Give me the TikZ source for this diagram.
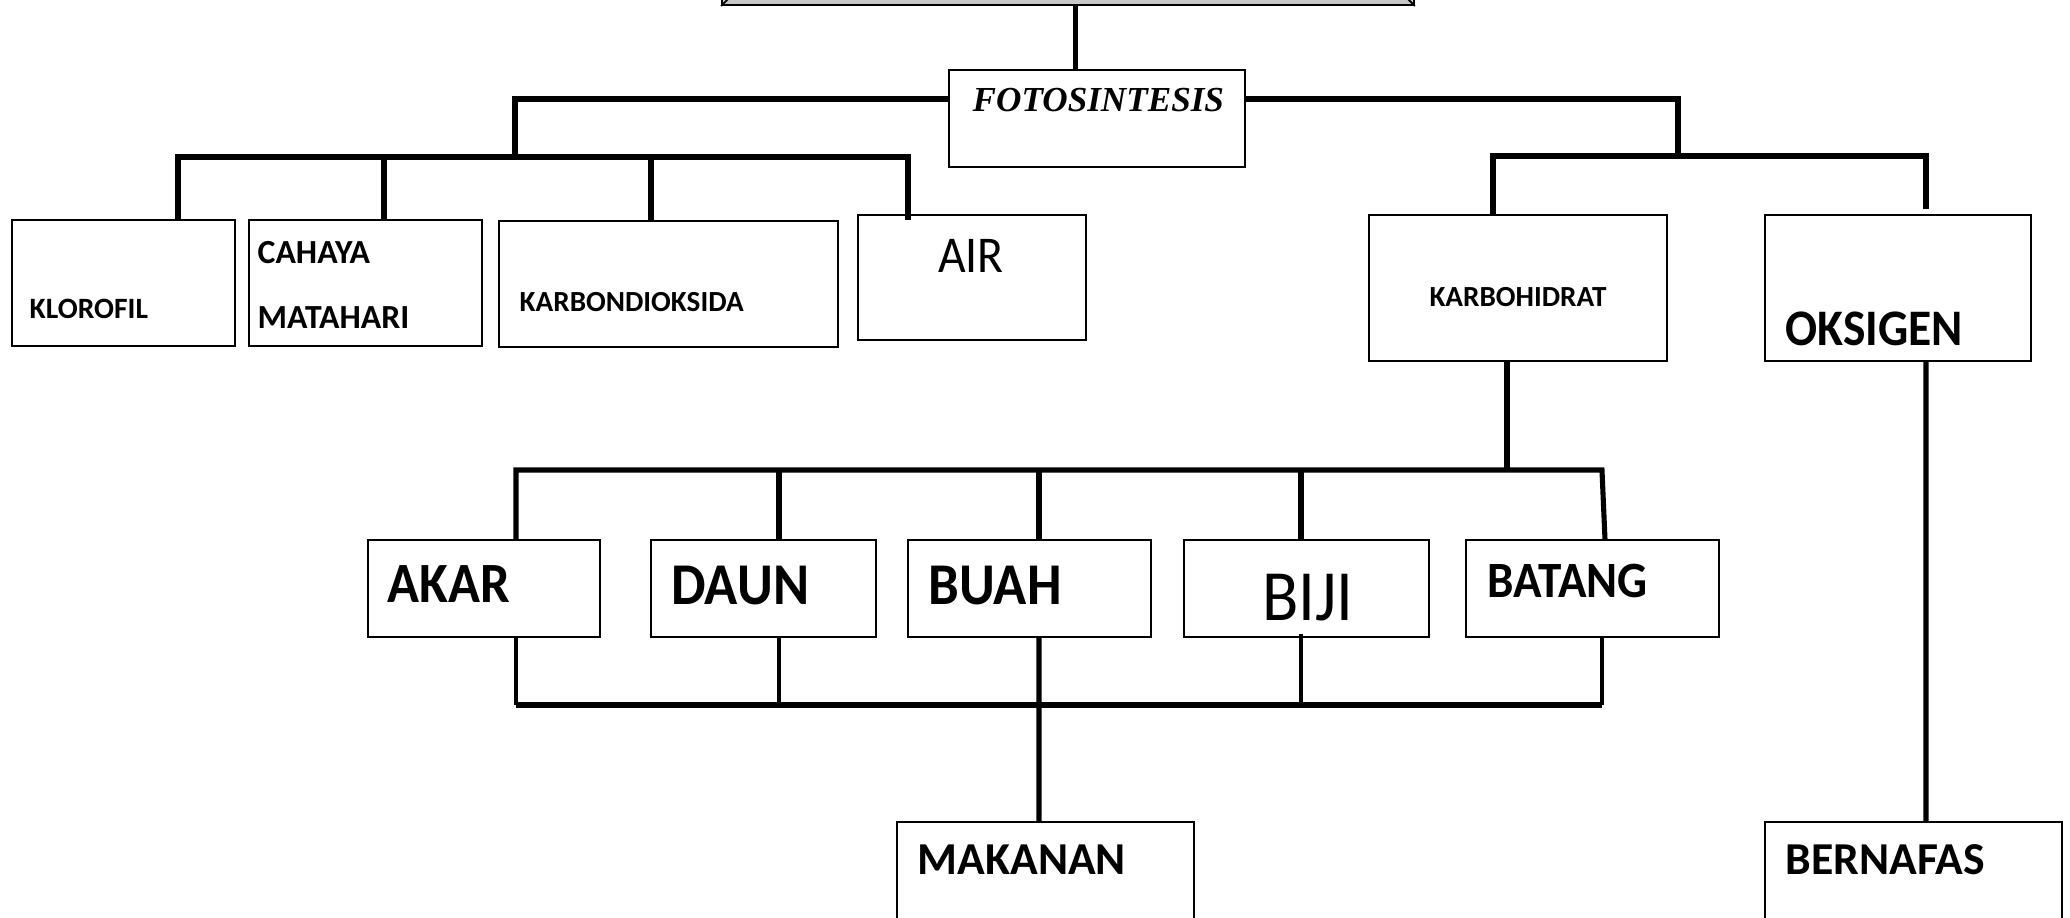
\documentclass[tikz,border=0pt]{standalone}
\usepackage{fontspec}
\setmainfont{Carlito}
\newfontfamily\fotofont{Liberation Serif}
\begin{document}
\begin{tikzpicture}[
  box/.style={draw=black, line width=0.55pt, fill=white, rectangle, inner sep=0pt, anchor=north west},
  txt/.style={inner sep=0pt, anchor=base west},
  ctxt/.style={inner sep=0pt, anchor=base},
  tall/.style={yscale=1.08, transform shape},
  conn/.style={line width=1.45pt, line join=miter},
  thin conn/.style={line width=1.1pt},
  bus/.style={line width=1.8pt, line join=miter},
  fs/.style={font=\bfseries\fontsize{#1}{#1}\selectfont},
  fr/.style={font=\fontsize{#1}{#1}\selectfont}
]
\useasboundingbox (0,0) rectangle (20.70,-9.17);
\begin{scope}
\clip (0,0) rectangle (20.70,-9.17);
% title box (cut by the top edge)
\node[fill=black!22, draw=black, line width=0.5pt, minimum width=6.92cm, minimum height=1cm, anchor=south west, inner sep=0pt] (title) at (7.21,-0.06) {};
\draw[line width=0.5pt] (title.south west) -- ++(0.09,0.09);
\draw[line width=0.5pt] (title.south east) -- ++(-0.09,0.09);

% boxes
\node[box, minimum width=2.96cm, minimum height=0.97cm] (foto) at (9.48,-0.69) {};
\node[txt, font=\fotofont\bfseries\itshape\fontsize{10}{11}\selectfont] (foto-t) at ([shift={(0.24,-0.42)}]foto.north west) {FOTOSINTESIS};

\node[box, minimum width=2.23cm, minimum height=1.26cm] (klorofil) at (0.11,-2.19) {};
\node[txt, fs=8.4] (klorofil-t) at ([shift={(0.18,-0.99)}]klorofil.north west) {KLOROFIL};

\node[box, minimum width=2.33cm, minimum height=1.26cm] (cahaya) at (2.48,-2.19) {};
\node[txt, fs=9.6] (cahaya-t1) at ([shift={(0.09,-0.44)}]cahaya.north west) {CAHAYA};
\node[txt, fs=9.6] (cahaya-t2) at ([shift={(0.09,-1.09)}]cahaya.north west) {MATAHARI};

\node[box, minimum width=3.39cm, minimum height=1.26cm] (karbon) at (4.98,-2.20) {};
\node[txt, fs=8.3] (karbon-t) at ([shift={(0.21,-0.91)}]karbon.north west) {KARBONDIOKSIDA};

\node[box, minimum width=2.28cm, minimum height=1.25cm] (air) at (8.57,-2.14) {};
\node[ctxt, fr=13.6, tall] (air-t) at ([shift={(-0.01,-0.58)}]air.north) {AIR};

\node[box, minimum width=2.98cm, minimum height=1.46cm] (karbo) at (13.68,-2.14) {};
\node[ctxt, fs=8.3] (karbo-t) at ([shift={(0,-0.92)}]karbo.north) {KARBOHIDRAT};

\node[box, minimum width=2.66cm, minimum height=1.46cm] (oks) at (17.64,-2.14) {};
\node[txt, fs=13.5, tall] (oks-t) at ([shift={(0.21,-1.31)}]oks.north west) {OKSIGEN};

\node[box, minimum width=2.32cm, minimum height=0.97cm] (akar) at (3.67,-5.39) {};
\node[txt, fs=15, tall] (akar-t) at ([shift={(0.20,-0.63)}]akar.north west) {AKAR};

\node[box, minimum width=2.25cm, minimum height=0.97cm] (daun) at (6.50,-5.39) {};
\node[txt, fs=15.6, tall] (daun-t) at ([shift={(0.21,-0.65)}]daun.north west) {DAUN};

\node[box, minimum width=2.43cm, minimum height=0.97cm] (buah) at (9.07,-5.39) {};
\node[txt, fs=15.6, tall] (buah-t) at ([shift={(0.21,-0.65)}]buah.north west) {BUAH};

\node[box, minimum width=2.45cm, minimum height=0.97cm] (biji) at (11.83,-5.39) {};
\node[ctxt, fr=19, tall] (biji-t) at ([shift={(0.015,-0.81)}]biji.north) {BIJI};

\node[box, minimum width=2.53cm, minimum height=0.97cm] (batang) at (14.65,-5.39) {};
\node[txt, fs=13.4, tall] (batang-t) at ([shift={(0.22,-0.58)}]batang.north west) {BATANG};

\node[box, minimum width=2.97cm, minimum height=1.2cm] (makanan) at (8.96,-8.21) {};
\node[txt, fs=13] (makanan-t) at ([shift={(0.21,-0.53)}]makanan.north west) {MAKANAN};

\node[box, minimum width=2.97cm, minimum height=1.2cm] (bernafas) at (17.64,-8.21) {};
\node[txt, fs=13] (bernafas-t) at ([shift={(0.21,-0.53)}]bernafas.north west) {BERNAFAS};

% bus reference points
\coordinate (fL) at (5.15,-0.99);
\coordinate (bL) at (5.15,-1.57);
\coordinate (fR) at (16.78,-0.99);
\coordinate (bR) at (16.78,-1.56);
\coordinate (bU) at (10.00,-4.70);
\coordinate (bD) at (10.00,-7.05);

% connectors
\draw[conn] ([xshift=0.08cm]title.south) -- ([xshift=0.08cm]title.south |- foto.north);
\draw[conn] (foto.west |- fL) -- (fL) -- (bL);
\draw[conn] (foto.east |- fR) -- (fR) -- (bR);

\draw[conn] ([xshift=0.545cm]klorofil.north) |- ([xshift=-0.64cm]air.north |- bL) -- ([xshift=-0.64cm,yshift=-0.06cm]air.north);
\draw[conn] ([xshift=0.185cm]cahaya.north) -- ([xshift=0.185cm]cahaya.north |- bL);
\draw[conn] ([xshift=-0.175cm]karbon.north) -- ([xshift=-0.175cm]karbon.north |- bL);

\draw[conn] ([xshift=-0.25cm]karbo.north) |- ([xshift=0.28cm]oks.north |- bR) -- ([xshift=0.28cm,yshift=0.05cm]oks.north);

\draw[conn] ([xshift=-0.11cm]karbo.south) -- ([xshift=-0.11cm]karbo.south |- bU);
\draw[conn] ([xshift=0.32cm]akar.north) |- ([xshift=0.095cm]batang.north |- bU) -- ([xshift=0.125cm]batang.north);
\draw[conn] ([xshift=0.155cm]daun.north) -- ([xshift=0.155cm]daun.north |- bU);
\draw[conn] ([xshift=0.095cm]buah.north) -- ([xshift=0.095cm]buah.north |- bU);
\draw[conn] ([xshift=-0.055cm]biji.north) -- ([xshift=-0.055cm]biji.north |- bU);

\draw[thin conn] ([xshift=0.32cm]akar.south) -- ([xshift=0.32cm]akar.south |- bD);
\draw[thin conn] ([xshift=0.155cm]daun.south) -- ([xshift=0.155cm]daun.south |- bD);
\draw[thin conn] ([xshift=0.095cm]batang.south) -- ([xshift=0.095cm]batang.south |- bD);
\draw[bus] ([xshift=0.32cm]akar.south |- bD) -- ([xshift=0.095cm]batang.south |- bD);
\draw[conn] ([xshift=0.095cm]buah.south) -- ([xshift=-0.065cm]makanan.north);
\draw[thin conn] ([xshift=-0.055cm,yshift=0.04cm]biji.south) -- ++(0,-0.68);

\draw[conn] ([xshift=0.28cm]oks.south) -- ([xshift=0.125cm]bernafas.north);
\end{scope}
\end{tikzpicture}
\end{document}
